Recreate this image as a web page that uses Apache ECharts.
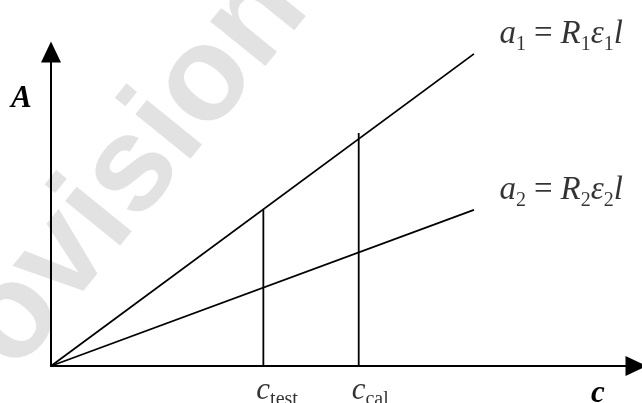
<!DOCTYPE html>
<html>
<head>
<meta charset="utf-8">
<script src="https://cdn.jsdelivr.net/npm/echarts@6/dist/echarts.min.js"></script>
<style>
  html, body { margin: 0; padding: 0; background: #fff; }
  #chart { width: 642px; height: 403px; }
</style>
</head>
<body>
<div id="chart"></div>
<script>
// Axis ranges (arbitrary units): concentration c and absorbance A
const cRange = [0, 10];
const aRange = [0, 10];

// Two straight response lines through the origin, given by their end points
const lineEndC = 7.23;
const line1EndA = 9.94;
const line2EndA = 4.97;

// Marked concentrations and the heights of their drop lines
const cTest = 3.63;
const cTestTop = 4.99;
const cCal = 5.26;
const cCalTop = 7.42;

// Subscripts used in the labels
const lineSubs = ['1', '2'];
const dropSubs = ['test', 'cal'];

const serif = '"Liberation Serif", "Times New Roman", serif';
const ink = '#000';

// Rich-text pieces for math-style labels
const mathRich = {
  i: { fontFamily: serif, fontStyle: 'italic', fontSize: 33, color: ink, verticalAlign: 'bottom', padding: [0, 0, 4, 0] },
  eq: { fontFamily: serif, fontSize: 33, color: ink, verticalAlign: 'bottom', padding: [0, 8, 4, 8] },
  s: { fontFamily: serif, fontSize: 20, color: ink, verticalAlign: 'bottom' }
};
const subRich = {
  c: { fontFamily: serif, fontStyle: 'italic', fontSize: 31, color: ink, verticalAlign: 'bottom', padding: [0, 0, 3, 0] },
  s: { fontFamily: serif, fontSize: 20, color: ink, verticalAlign: 'bottom' }
};

function eqLabel(n) {
  return '{i|a}{s|' + n + '}{eq|=}{i|R}{s|' + n + '}{i|ε}{s|' + n + '}{i|l}';
}

function plainLine(points) {
  return {
    type: 'line', symbol: 'none', silent: true,
    lineStyle: { color: ink, width: 1.8 },
    data: points
  };
}

const chart = echarts.init(document.getElementById('chart'), null, { renderer: 'canvas' });

chart.setOption({
  backgroundColor: '#fff',
  animation: false,
  grid: { left: 51, right: 6, top: 52, bottom: 37 },
  xAxis: {
    type: 'value', min: cRange[0], max: cRange[1],
    axisLine: { show: true, symbol: ['none', 'triangle'], symbolSize: [20, 21], lineStyle: { color: ink, width: 2 } },
    axisTick: { show: false }, axisLabel: { show: false }, splitLine: { show: false }
  },
  yAxis: {
    type: 'value', min: aRange[0], max: aRange[1],
    axisLine: { show: true, symbol: ['none', 'triangle'], symbolSize: [20, 21], lineStyle: { color: ink, width: 2 } },
    axisTick: { show: false }, axisLabel: { show: false }, splitLine: { show: false }
  },
  graphic: [
    {
      type: 'text', x: -102, y: 461, rotation: 51 * Math.PI / 180, z: -10, silent: true,
      style: { text: 'Provisional', fontFamily: '"Liberation Sans", Arial, sans-serif', fontWeight: 'bold', fontSize: 134, fill: '#e2e2e2', verticalAlign: 'middle', align: 'left' }
    },
    {
      type: 'text', x: 11, y: 83, z: 10, silent: true,
      style: { text: 'A', fontFamily: serif, fontStyle: 'italic', fontWeight: 'bold', fontSize: 31, fill: ink }
    },
    {
      type: 'text', x: 591, y: 378, z: 10, silent: true,
      style: { text: 'c', fontFamily: serif, fontStyle: 'italic', fontWeight: 'bold', fontSize: 31, fill: ink }
    }
  ],
  series: [
    plainLine([[0, 0], [lineEndC, line1EndA]]),
    plainLine([[0, 0], [lineEndC, line2EndA]]),
    plainLine([[cTest, 0], [cTest, cTestTop]]),
    plainLine([[cCal, 0], [cCal, cCalTop]]),
    {
      // equation labels at the ends of the two lines
      type: 'scatter', symbolSize: 1, silent: true,
      itemStyle: { color: 'rgba(0,0,0,0)' },
      label: {
        show: true, position: 'right', distance: 0, offset: [25, -18],
        formatter: function (p) { return eqLabel(lineSubs[p.dataIndex]); },
        rich: mathRich
      },
      data: [[lineEndC, line1EndA], [lineEndC, line2EndA]]
    },
    {
      // concentration labels under the drop lines
      type: 'scatter', symbolSize: 1, silent: true,
      itemStyle: { color: 'rgba(0,0,0,0)' },
      label: {
        show: true, position: 'bottom', distance: 0, align: 'left', offset: [-7, 9],
        formatter: function (p) { return '{c|c}{s|' + dropSubs[p.dataIndex] + '}'; },
        rich: subRich
      },
      data: [[cTest, 0], [cCal, 0]]
    }
  ]
});
</script>
</body>
</html>
